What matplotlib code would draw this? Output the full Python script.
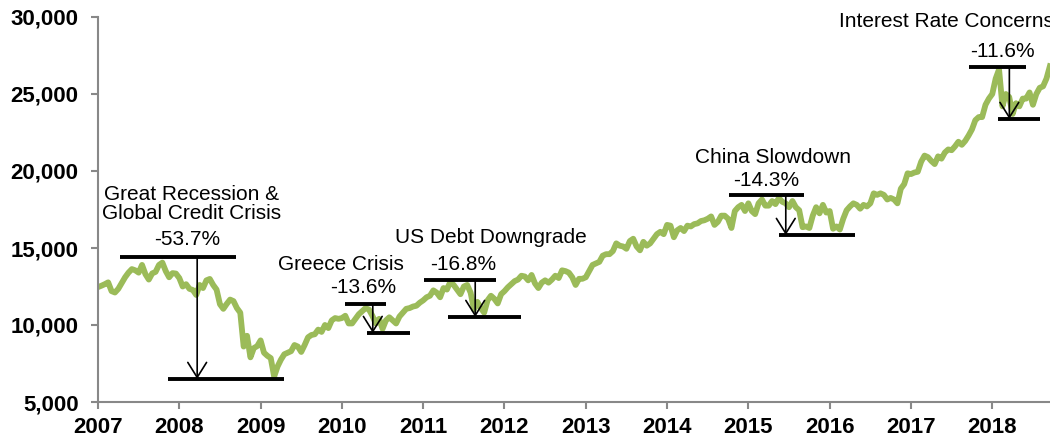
import numpy as np
import matplotlib
matplotlib.use("Agg")
import matplotlib.pyplot as plt

plt.rcParams['font.family'] = ['Liberation Sans', 'DejaVu Sans']

# Dow level at the 1st and 15th of each month (Jan 2007 - Sep 2018)
dow_2007 = [12460, 12550, 12650, 12770, 12200, 12110, 12350, 12720, 13100, 13400, 13630, 13550,
            13400, 13900, 13300, 12950, 13350, 13450, 13900, 14050, 13500, 13100, 13370, 13340]
dow_2008 = [13050, 12500, 12650, 12350, 12270, 11950, 12600, 12400, 12900, 12990, 12600, 12300,
            11350, 11050, 11370, 11650, 11550, 11100, 10800, 8600, 9300, 7900, 8500, 8630]
dow_2009 = [9000, 8200, 8000, 7850, 6650, 7300, 7750, 8100, 8200, 8300, 8700, 8600,
            8250, 8700, 9200, 9350, 9400, 9700, 9550, 10000, 9800, 10300, 10450, 10400]
dow_2010 = [10450, 10600, 10100, 10100, 10400, 10700, 10900, 11100, 11000, 10600, 10100, 10400,
            9750, 10300, 10500, 10300, 10100, 10550, 10800, 11050, 11100, 11200, 11250, 11450]
dow_2011 = [11600, 11800, 11900, 12250, 12100, 11800, 12400, 12300, 12800, 12600, 12300, 12000,
            12500, 12600, 12100, 11000, 11500, 11100, 10800, 11600, 11900, 11700, 11400, 12000]
dow_2012 = [12200, 12450, 12650, 12850, 12950, 13200, 13150, 12900, 13250, 12700, 12400, 12750,
            12900, 12750, 12950, 13200, 13050, 13550, 13500, 13400, 13100, 12600, 13000, 13000]
dow_2013 = [13100, 13500, 13900, 14000, 14100, 14500, 14600, 14600, 14800, 15300, 15150, 15100,
            14950, 15450, 15600, 15100, 14850, 15400, 15150, 15300, 15600, 15900, 16050, 15900]
dow_2014 = [16500, 16450, 15700, 16150, 16300, 16100, 16450, 16400, 16550, 16600, 16750, 16800,
            16900, 17050, 16500, 16700, 17100, 17100, 16900, 16300, 17400, 17650, 17800, 17400]
dow_2015 = [17900, 17400, 17200, 17900, 18150, 17750, 17750, 18050, 17850, 18250, 18000, 17900,
            17650, 18050, 17650, 17450, 16350, 16400, 16300, 17100, 17650, 17250, 17800, 17300]
dow_2016 = [17400, 16250, 16400, 16200, 16900, 17450, 17700, 17900, 17800, 17550, 17800, 17700,
            17900, 18550, 18450, 18550, 18450, 18150, 18250, 18150, 17900, 18850, 19150, 19850]
dow_2017 = [19800, 19900, 19950, 20600, 21000, 20900, 20650, 20450, 20950, 20800, 21200, 21400,
            21350, 21600, 21900, 21700, 21950, 22300, 22700, 23300, 23500, 23500, 24300, 24700]
dow_2018 = [25000, 26000, 26600, 24200, 25000, 24800, 23700, 24400, 24200, 24700, 24700, 25100,
            24300, 25000, 25400, 25500, 26000, 26800]

dow = np.array(dow_2007 + dow_2008 + dow_2009 + dow_2010 + dow_2011 + dow_2012 +
               dow_2013 + dow_2014 + dow_2015 + dow_2016 + dow_2017 + dow_2018)
years = 2007 + np.arange(len(dow)) / 24

# drawdown annotations
labels = ["Great Recession &\nGlobal Credit Crisis", "Greece Crisis", "US Debt Downgrade",
          "China Slowdown", "Interest Rate Concerns"]
pcts = ["-53.7%", "-13.6%", "-16.8%", "-14.3%", "-11.6%"]
peak_level = [14416, 11364, 12922, 18442, 26753]
peak_span = [(2007.27, 2008.70), (2010.04, 2010.54), (2011.01, 2011.90), (2014.76, 2015.68), (2017.71, 2018.41)]
trough_level = [6494, 9481, 10519, 15844, 23377]
trough_span = [(2007.86, 2009.29), (2010.31, 2010.84), (2011.31, 2012.20), (2015.38, 2016.31), (2018.07, 2018.59)]
arrow_x = [2008.22, 2010.38, 2011.64, 2015.46, 2018.21]
label_pos = [(2008.156, 16883), (2009.983, 13571), (2011.834, 15325), (2015.303, 20519), (2016.114, 29351)]
pct_pos = [(2008.095, 15195), (2010.266, 12078), (2011.49, 13571), (2015.217, 19026), (2018.12, 27403)]

fig = plt.figure(figsize=(10.5, 4.44), dpi=100)
ax = fig.add_axes([98 / 1050, 42 / 444, 952 / 1050, 385 / 444])

ax.plot(years, dow, color='#9BBB59', lw=4.2, solid_joinstyle='round')

for i in range(len(labels)):
    ax.hlines(peak_level[i], *peak_span[i], color='black', lw=2.8)
    ax.hlines(trough_level[i], *trough_span[i], color='black', lw=2.8)
    ax.annotate('', xy=(arrow_x[i], trough_level[i]), xytext=(arrow_x[i], peak_level[i]),
                arrowprops=dict(arrowstyle='->,head_length=0.4,head_width=0.25', lw=1.2,
                                color='black', shrinkA=0, shrinkB=0, mutation_scale=27))
    ha = 'left' if i == 4 else 'center'
    ax.text(label_pos[i][0], label_pos[i][1], labels[i], ha=ha, va='baseline',
            fontsize=15, linespacing=1.0, clip_on=False)
    ax.text(pct_pos[i][0], pct_pos[i][1], pcts[i], ha='center', va='baseline', fontsize=15)

ax.set_xlim(2007, 2018.71)
ax.set_ylim(5000, 30000)
ax.set_xticks(range(2007, 2019))
ax.set_yticks(range(5000, 30001, 5000))
ax.yaxis.set_major_formatter(matplotlib.ticker.FuncFormatter(lambda v, p: f'{int(v):,}'))

for s in ['top', 'right']:
    ax.spines[s].set_visible(False)
for s in ['left', 'bottom']:
    ax.spines[s].set_color('#888888')
    ax.spines[s].set_linewidth(1.5)
ax.tick_params(axis='both', colors='#888888', width=1.5, length=5, labelcolor='black',
               labelsize=16)
ax.tick_params(axis='y', pad=9)
ax.tick_params(axis='x', pad=6)
for lab in ax.get_xticklabels() + ax.get_yticklabels():
    lab.set_fontweight('bold')

fig.savefig('out.png', dpi=100)
